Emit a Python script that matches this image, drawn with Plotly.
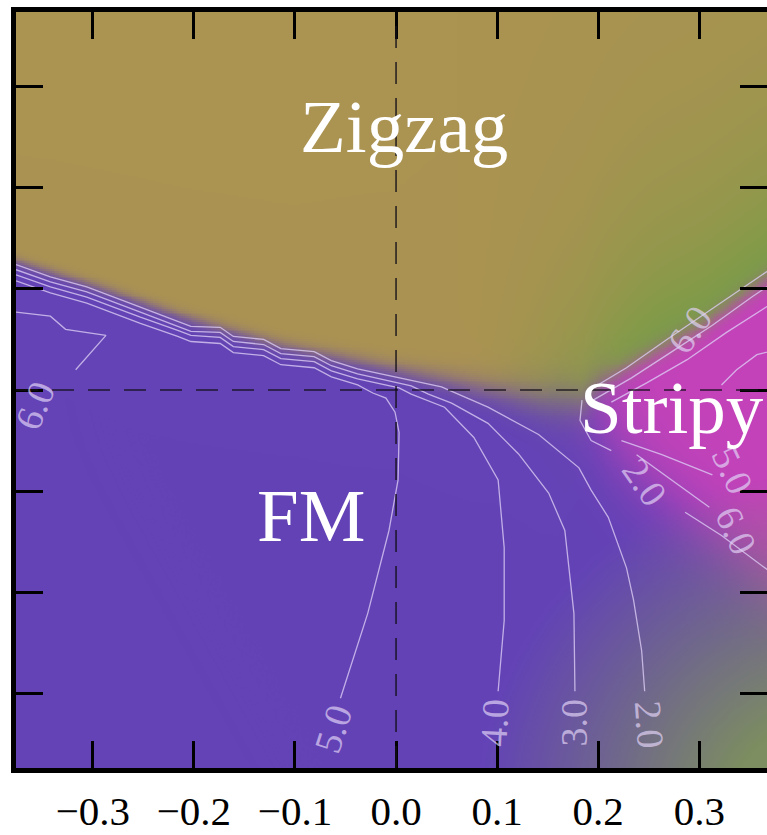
import numpy as np
import plotly.graph_objects as go

# ---------------- axes ----------------
X_RANGE = [-0.376, 0.367]
Y_RANGE = [-0.374, 0.374]
X_TICKS = [-0.3, -0.2, -0.1, 0.0, 0.1, 0.2, 0.3]
X_TICK_LABELS = ["−0.3", "−0.2", "−0.1", "0.0", "0.1", "0.2", "0.3"]
Y_TICKS = [-0.3, -0.2, -0.1, 0.0, 0.1, 0.2, 0.3]

# ---------------- phase colours ----------------
COL_FM = np.array([99, 67, 182])
COL_ZZ = np.array([171, 147, 82])
COL_ST = np.array([196, 66, 186])
COL_GREEN = np.array([116, 158, 70])
COL_CORNER = np.array([125, 142, 96])

# Zigzag / (FM, Stripy) phase boundary
ZZ_BX = [-0.376, -0.293, -0.213, -0.114, 0.005, 0.084, 0.144, 0.184, 0.203, 0.243, 0.303, 0.377]
ZZ_BY = [0.127, 0.101, 0.073, 0.044, 0.019, 0.002, -0.010, -0.012, 0.008, 0.030, 0.0625, 0.117]
ZZ_SOFT_X = [-0.376, -0.1, 0.0, 0.1, 0.16, 0.19, 0.22, 0.377]
ZZ_SOFT = [0.003, 0.004, 0.005, 0.008, 0.012, 0.011, 0.006, 0.006]

# Stripy / FM lower boundary
ST_LX = [0.193, 0.253, 0.322, 0.377]
ST_LY = [-0.040, -0.095, -0.155, -0.205]
ST_TIP_X = 0.193

# phase labels
PHASE_NAMES = ["Zigzag", "FM", "Stripy"]
PHASE_X = [0.008, -0.084, 0.273]
PHASE_Y = [0.261, -0.124, -0.017]

# contour lines (levels 2.0 ... 6.0)
C2_X = [-0.376, -0.342, -0.306, -0.283, -0.253, -0.216, -0.203, -0.174, -0.161, -0.131, -0.114, -0.081, -0.064,
        -0.038, -0.015, 0.018, 0.045, 0.091, 0.141, 0.181, 0.193, 0.210, 0.228, 0.235, 0.243, 0.246]
C2_Y = [0.124, 0.112, 0.102, 0.093, 0.082, 0.068, 0.063, 0.062, 0.053, 0.050, 0.041, 0.038, 0.029,
        0.021, 0.016, 0.009, 0.003, -0.017, -0.044, -0.077, -0.099, -0.126, -0.176, -0.208, -0.258, -0.298]
C3_X = [-0.376, -0.342, -0.306, -0.283, -0.253, -0.216, -0.203, -0.174, -0.161, -0.131, -0.114, -0.081,
        -0.064, -0.038, -0.015, 0.015, 0.032, 0.055, 0.091, 0.121, 0.151, 0.167, 0.176, 0.177]
C3_Y = [0.119, 0.107, 0.097, 0.088, 0.077, 0.063, 0.058, 0.057, 0.048, 0.045, 0.036, 0.033,
        0.024, 0.016, 0.011, 0.004, -0.004, -0.013, -0.033, -0.063, -0.102, -0.139, -0.221, -0.298]
C4_X = [-0.376, -0.342, -0.306, -0.283, -0.253, -0.216, -0.203, -0.174, -0.161, -0.131, -0.114, -0.081,
        -0.064, -0.038, -0.015, 0.003, 0.015, 0.048, 0.077, 0.101, 0.107, 0.107, 0.101]
C4_Y = [0.114, 0.102, 0.092, 0.083, 0.072, 0.059, 0.054, 0.052, 0.043, 0.040, 0.031, 0.028,
        0.019, 0.011, 0.006, 0.002, -0.004, -0.017, -0.047, -0.089, -0.156, -0.228, -0.298]
C5_X = [-0.376, -0.342, -0.306, -0.283, -0.253, -0.216, -0.203, -0.174, -0.161, -0.131, -0.114, -0.081,
        -0.064, -0.038, -0.023, -0.010, -0.001, 0.003, 0.002, -0.007, -0.028, -0.055]
C5_Y = [0.108, 0.096, 0.086, 0.077, 0.066, 0.053, 0.048, 0.046, 0.037, 0.034, 0.025, 0.022,
        0.013, 0.005, -0.003, -0.008, -0.022, -0.042, -0.089, -0.139, -0.221, -0.305]
C6_X = [-0.376, -0.342, -0.327, -0.287, -0.317]
C6_Y = [0.077, 0.073, 0.060, 0.054, 0.020]
SU1_X = [0.188, 0.228, 0.268, 0.308, 0.347, 0.377]
SU1_Y = [-0.002, 0.022, 0.050, 0.077, 0.104, 0.124]
SU2_X = [0.195, 0.233, 0.273, 0.313, 0.352, 0.377]
SU2_Y = [-0.010, 0.012, 0.038, 0.064, 0.092, 0.109]
SU3_X = [0.213, 0.248, 0.288, 0.327, 0.377]
SU3_Y = [-0.012, 0.007, 0.030, 0.057, 0.089]
SI1_X = [0.322, 0.337, 0.357, 0.377]
SI1_Y = [0.005, 0.020, 0.035, 0.040]
SL1_X = [0.184, 0.182, 0.193, 0.213]
SL1_Y = [-0.010, -0.030, -0.050, -0.060]
SL2_X = [0.223, 0.263, 0.313]
SL2_Y = [-0.050, -0.064, -0.084]
SL3_X = [0.238, 0.273, 0.310]
SL3_Y = [-0.064, -0.089, -0.116]
SL4_X = [0.286, 0.322, 0.369]
SL4_Y = [-0.121, -0.144, -0.179]
CONTOUR_LINES = [(C2_X, C2_Y), (C3_X, C3_Y), (C4_X, C4_Y), (C5_X, C5_Y), (C6_X, C6_Y),
                 (SU1_X, SU1_Y), (SU2_X, SU2_Y), (SU3_X, SU3_Y), (SI1_X, SI1_Y),
                 (SL1_X, SL1_Y), (SL2_X, SL2_Y), (SL3_X, SL3_Y), (SL4_X, SL4_Y)]

# contour labels
CLABEL_TEXT = ["5.0", "4.0", "3.0", "2.0", "6.0", "2.0", "6.0", "5.0", "6.0"]
CLABEL_X = [-0.0625, 0.097, 0.176, 0.251, -0.357, 0.246, 0.291, 0.333, 0.336]
CLABEL_Y = [-0.335, -0.329, -0.329, -0.331, -0.015, -0.091, 0.060, -0.079, -0.139]
CLABEL_ANGLE = [-72, -87, -90, 86, -68, 55, -55, 65, 65]

# ---------------- colour field ----------------
N = 400
dx = (X_RANGE[1] - X_RANGE[0]) / N
dy = (Y_RANGE[1] - Y_RANGE[0]) / N
xs = X_RANGE[0] + (np.arange(N) + 0.5) * dx
ys = Y_RANGE[0] + (np.arange(N) + 0.5) * dy
X, Y = np.meshgrid(xs, ys)


def sig(t):
    return 1.0 / (1.0 + np.exp(-np.clip(t, -60, 60)))


def smooth(a, b, t):
    u = np.clip((t - a) / (b - a), 0, 1)
    return u * u * (3 - 2 * u)


yb = np.interp(X, ZZ_BX, ZZ_BY)
wb = np.interp(X, ZZ_SOFT_X, ZZ_SOFT)
s_zz = sig((Y - yb) / wb)
yl = np.interp(X, ST_LX, ST_LY, left=ST_LY[0], right=ST_LY[-1])
s_low = sig((Y - yl) / 0.025)
s_tip = sig((X - ST_TIP_X) / 0.014)
w_st = (1 - s_zz) * s_low * s_tip
w_fm = 1 - s_zz - w_st

d = np.maximum(Y - yb, 0)
g_top = smooth(0.06, 0.27, X) * np.exp(-d / 0.12)
zz_col = COL_ZZ[None, None, :] * (1 - g_top[..., None]) + COL_GREEN[None, None, :] * g_top[..., None]

col = (COL_FM[None, None, :] * w_fm[..., None] + zz_col * s_zz[..., None]
       + COL_ST[None, None, :] * w_st[..., None])
dist = np.hypot(X - 0.42, Y + 0.42)
g_br = np.clip((0.34 - dist) / 0.25, 0, 1) ** 1.1
col = col * (1 - g_br[..., None]) + COL_CORNER[None, None, :] * g_br[..., None]
img = np.clip(col, 0, 255).astype(np.uint8)

fig = go.Figure()
fig.add_trace(go.Image(z=img, x0=xs[0], dx=dx, y0=ys[0], dy=dy, hoverinfo="skip"))

LINE_COL = "rgba(222,206,245,0.78)"
for cx, cy in CONTOUR_LINES:
    fig.add_trace(go.Scatter(x=cx, y=cy, mode="lines", line=dict(color=LINE_COL, width=1.3),
                             hoverinfo="skip", showlegend=False))

SERIF = "Liberation Serif, Times New Roman, serif"
for t, x, y, a in zip(CLABEL_TEXT, CLABEL_X, CLABEL_Y, CLABEL_ANGLE):
    fig.add_annotation(x=x, y=y, xref="x", yref="y", text=t, showarrow=False, textangle=a,
                       font=dict(family=SERIF, size=38, color="rgba(225,210,245,0.7)"))

for t, x, y in zip(PHASE_NAMES, PHASE_X, PHASE_Y):
    fig.add_annotation(x=x, y=y, xref="x", yref="y", text=t, showarrow=False,
                       font=dict(family=SERIF, size=75, color="white"))

DASH = dict(color="rgba(20,15,25,0.85)", width=1.6, dash="22px,14px")
fig.add_shape(type="line", xref="x", yref="y", x0=0, x1=0, y0=Y_RANGE[0], y1=Y_RANGE[1], line=DASH)
fig.add_shape(type="line", xref="x", yref="y", x0=X_RANGE[0], x1=X_RANGE[1], y0=0, y1=0, line=DASH)

axis_common = dict(showgrid=False, zeroline=False, showline=True, linewidth=5, linecolor="black",
                   mirror="ticks", ticks="inside", ticklen=27, tickwidth=3, tickcolor="black")
fig.update_xaxes(range=X_RANGE, tickvals=X_TICKS, ticktext=X_TICK_LABELS, autorange=False,
                 ticklabelstandoff=3, tickfont=dict(family=SERIF, size=41, color="black"), **axis_common)
fig.update_yaxes(range=Y_RANGE, tickvals=Y_TICKS, showticklabels=False, autorange=False,
                 scaleanchor="x", scaleratio=1, **axis_common)

fig.update_layout(width=767, height=835, margin=dict(l=16, r=0, t=12, b=67, autoexpand=False),
                  autosize=False, paper_bgcolor="white", plot_bgcolor="white", showlegend=False)

fig.write_html("out.html", config={"displayModeBar": False, "responsive": False},
               post_script="document.body.style.margin='0';document.body.style.overflow='hidden';")
